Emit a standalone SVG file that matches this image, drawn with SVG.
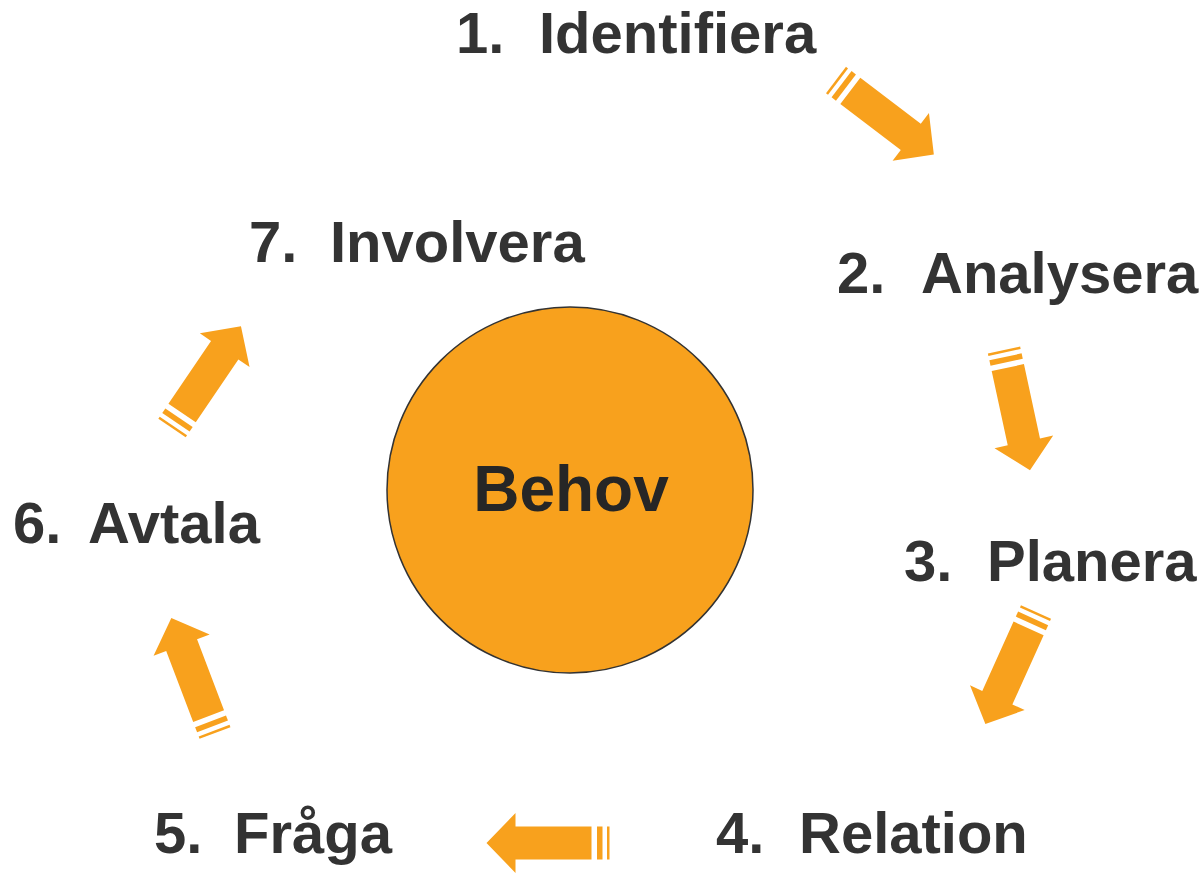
<svg xmlns="http://www.w3.org/2000/svg" width="1203" height="873" viewBox="0 0 1203 873">
<style>
.lbl{font-family:"Liberation Sans",Arial,sans-serif;font-weight:bold;font-size:58px;fill:#333333}
.ctr{font-family:"Liberation Sans",Arial,sans-serif;font-weight:bold;font-size:64px;fill:#262626}
.arr{fill:#F8A11D}
</style>
<defs>
<g id="arrow">
<rect class="arr" x="0" y="-16.5" width="2.5" height="33"/>
<rect class="arr" x="7" y="-16.5" width="5.5" height="33"/>
<polygon class="arr" points="18,-16.5 94,-16.5 94,-30 123,0 94,30 94,16.5 18,16.5"/>
</g>
</defs>
<rect width="1203" height="873" fill="#ffffff"/>
<g id="connectors">
<use href="#arrow" transform="translate(836,80) rotate(37.3)"/>
<use href="#arrow" transform="translate(1004,350) rotate(77.8)"/>
<use href="#arrow" transform="translate(1036,612) rotate(114.3)"/>
<use href="#arrow" transform="translate(609.5,843) rotate(180)"/>
<use href="#arrow" transform="translate(215,733) rotate(-110.8)"/>
<use href="#arrow" transform="translate(172,428) rotate(-55.9)"/>
</g>
<g id="behov">
<circle cx="570" cy="490" r="183" fill="#F8A11D" stroke="#333333" stroke-width="1.5"/>
<text class="ctr" x="571" y="511" text-anchor="middle">Behov</text>
</g>
<g id="n1"><text class="lbl" y="53"><tspan x="456">1.</tspan><tspan x="539">Identifiera</tspan></text></g>
<g id="n2"><text class="lbl" y="293"><tspan x="837">2.</tspan><tspan x="921">Analysera</tspan></text></g>
<g id="n3"><text class="lbl" y="581"><tspan x="904">3.</tspan><tspan x="987">Planera</tspan></text></g>
<g id="n4"><text class="lbl" y="853"><tspan x="716">4.</tspan><tspan x="799">Relation</tspan></text></g>
<g id="n5"><text class="lbl" y="853"><tspan x="154">5.</tspan><tspan x="234">Fråga</tspan></text></g>
<g id="n6"><text class="lbl" y="543"><tspan x="13">6.</tspan><tspan x="88">Avtala</tspan></text></g>
<g id="n7"><text class="lbl" y="262"><tspan x="249">7.</tspan><tspan x="330">Involvera</tspan></text></g>
</svg>
